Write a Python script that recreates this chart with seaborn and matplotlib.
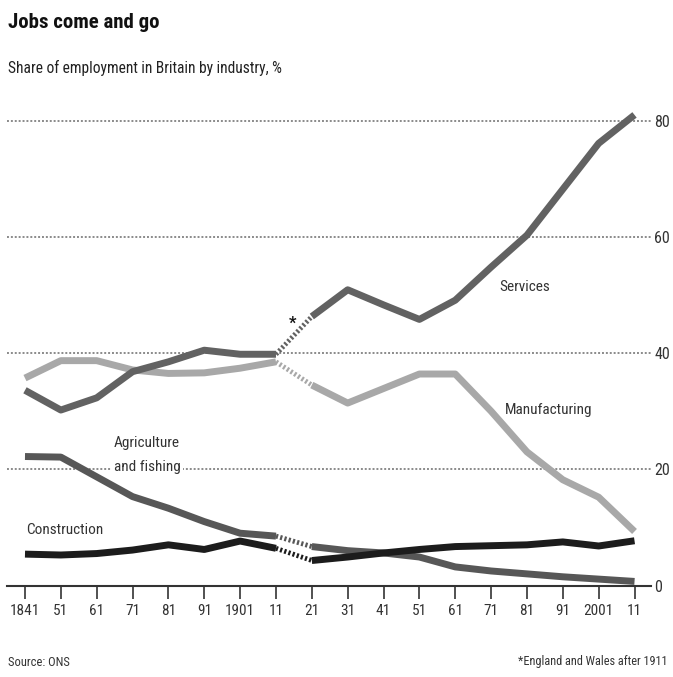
import numpy as np
import pandas as pd
import matplotlib
matplotlib.use("Agg")
import matplotlib.pyplot as plt
import seaborn as sns

# Census years and share of employment by industry, %
years = [1841, 1851, 1861, 1871, 1881, 1891, 1901, 1911, 1921,
         1931, 1941, 1951, 1961, 1971, 1981, 1991, 2001, 2011]
services = [33.6, 30.2, 32.3, 36.8, 38.5, 40.5, 39.8, 39.8, 46.3,
            50.9, 48.3, 45.8, 49.1, 54.8, 60.3, 68.2, 76.1, 81.0]
manufacturing = [35.7, 38.7, 38.7, 37.1, 36.5, 36.6, 37.4, 38.5, 34.5,
                 31.4, 33.9, 36.4, 36.4, 30.0, 23.0, 18.2, 15.2, 9.3]
agriculture = [22.2, 22.1, 18.7, 15.3, 13.3, 11.0, 9.0, 8.5, 6.7,
               6.0, 5.6, 4.9, 3.2, 2.5, 2.0, 1.5, 1.1, 0.7]
construction = [5.4, 5.25, 5.5, 6.1, 7.0, 6.2, 7.65, 6.4, 4.3,
                4.9, 5.6, 6.2, 6.7, 6.85, 7.0, 7.5, 6.8, 7.7]

tick_labels = ["1841", "51", "61", "71", "81", "91", "1901", "11", "21",
               "31", "41", "51", "61", "71", "81", "91", "2001", "11"]
y_ticks = [0, 20, 40, 60, 80]
last_gb_year, first_ew_year = 1911, 1921

industries = ["Manufacturing", "Agriculture and fishing", "Services", "Construction"]
palette = {"Manufacturing": "#a8a8a8", "Agriculture and fishing": "#575757",
           "Services": "#626262", "Construction": "#1c1c1c"}

df = pd.DataFrame({
    "year": years * 4,
    "industry": sum([[name] * len(years) for name in industries], []),
    "share": manufacturing + agriculture + services + construction,
})
df["era"] = np.where(df["year"] <= last_gb_year, "Britain", "England and Wales")

sns.set_theme(style="white")
fonts = ["Roboto Condensed", "Liberation Sans Narrow", "Roboto", "DejaVu Sans"]
plt.rcParams["font.family"] = fonts

W, H = 673, 677
fig = plt.figure(figsize=(W / 100, H / 100), dpi=100)
px = 3.588  # pixels per year
left_px, right_px = 7, 651
ax = fig.add_axes([left_px / W, (H - 585.5) / H, (right_px - left_px) / W, 84 * 5.81 / H])
ax.set_xlim(1841 - (25 - left_px) / px, 2011 + (right_px - 634.5) / px)
ax.set_ylim(0, 84)

# Solid runs on either side of the 1911/1921 boundary change
sns.lineplot(data=df, x="year", y="share", hue="industry", units="era",
             estimator=None, hue_order=industries, palette=palette,
             linewidth=5, legend=False, ax=ax, sort=True,
             solid_capstyle="butt", clip_on=False, zorder=3)

# Dotted links across the change of geography
link = df[df["year"].isin([last_gb_year, first_ew_year])]
sns.lineplot(data=link, x="year", y="share", hue="industry",
             estimator=None, hue_order=industries, palette=palette,
             linewidth=3.5, linestyle=(0, (0.45, 0.45)), legend=False, ax=ax,
             zorder=3)

ax.set_xlabel("")
ax.set_ylabel("")
ax.set_xticks(years)
ax.set_xticklabels(tick_labels)
ax.set_yticks(y_ticks)
ax.set_yticklabels([str(v) for v in y_ticks])
ax.yaxis.tick_right()
ax.tick_params(axis="y", length=0, pad=2.5, labelsize=11.5, colors="#333333")
ax.tick_params(axis="x", direction="out", length=9, width=1.2, color="#333333",
               pad=4, labelsize=11, labelcolor="#333333", bottom=True)
for side in ["left", "right", "top"]:
    ax.spines[side].set_visible(False)
ax.spines["bottom"].set_color("#333333")
ax.spines["bottom"].set_linewidth(1.5)
ax.yaxis.grid(True, linestyle=(0, (1, 1)), color="#8a8a8a", linewidth=1.4)
ax.set_axisbelow(True)

# Series labels
lab = dict(fontsize=11, color="#333333", zorder=4)
ax.text(1841 + (525 - 25) / px, 51.4, "Services", ha="center", va="center", **lab)
ax.text(1841 + (549 - 25) / px, 30.2, "Manufacturing", ha="center", va="center", **lab)
ax.text(1841 + (147 - 25) / px, 22.4, "Agriculture\nand fishing", ha="center",
        va="center", linespacing=1.9,
        bbox=dict(boxstyle="square,pad=0.15", fc="white", ec="none"), **lab)
ax.text(1841 + (26 - 25) / px, 9.55, "Construction", ha="left", va="center", **lab)
ax.text(1841 + (293 - 25) / px, 45.2, "*", ha="center", va="center",
        fontsize=12, color="#111111", weight="bold")

# Title block and footer
fig.text(8 / W, 1 - 23 / H, "Jobs come and go", ha="left", va="center",
         fontsize=15, weight="bold", color="#111111")
fig.text(8 / W, 1 - 68 / H, "Share of employment in Britain by industry, %",
         ha="left", va="center", fontsize=11.2, color="#222222")
fig.text(8 / W, 1 - 662 / H, "Source: ONS", ha="left", va="center",
         fontsize=9, color="#333333")
fig.text(668 / W, 1 - 662 / H, "*England and Wales after 1911", ha="right",
         va="center", fontsize=8.8, color="#333333")

fig.savefig("out.png", dpi=100, facecolor="white")
